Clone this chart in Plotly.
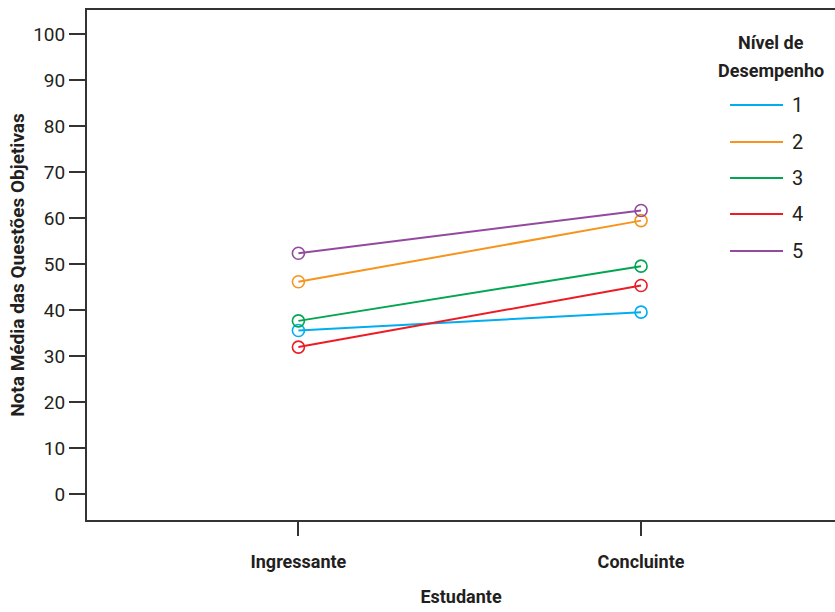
import plotly.graph_objects as go

categories = ["Ingressante", "Concluinte"]
levels = ["1", "2", "3", "4", "5"]
values = {
    "1": [35.6, 39.6],
    "2": [46.2, 59.5],
    "3": [37.7, 49.6],
    "4": [32.0, 45.4],
    "5": [52.4, 61.7],
}
colors = {"1": "#00aeef", "2": "#f7941d", "3": "#00a651", "4": "#ed1c24", "5": "#92499e"}
y_ticks = [0, 10, 20, 30, 40, 50, 60, 70, 80, 90, 100]

W, H = 835, 612
ML, MT, MB, MR = 87, 10, 92, 0
PW, PH = W - ML - MR, H - MT - MB

FONT = "Roboto, Liberation Sans, sans-serif"
INK = "#231f20"

fig = go.Figure()
for lv in levels:
    fig.add_trace(go.Scatter(
        x=[0, 1], y=values[lv], mode="lines+markers", name=lv,
        line=dict(color=colors[lv], width=2),
        marker=dict(symbol="circle-open", size=12, color=colors[lv], line=dict(width=1.6)),
        showlegend=False, hoverinfo="skip",
    ))

def px2x(px):
    return (px - ML) / PW

def py2y(py):
    return (H - MB - py) / PH

shapes = []
annotations = []
leg_y = [105, 142, 178, 214, 251]
for lv, py in zip(levels, leg_y):
    shapes.append(dict(type="line", xref="paper", yref="paper",
                       x0=px2x(730), x1=px2x(783), y0=py2y(py), y1=py2y(py),
                       line=dict(color=colors[lv], width=2)))
    annotations.append(dict(xref="paper", yref="paper", x=px2x(797), y=py2y(py),
                            text=lv, showarrow=False, xanchor="center", yanchor="middle",
                            font=dict(family=FONT, size=20, color=INK)))
for txt, py in [("<b>Nível de</b>", 42), ("<b>Desempenho</b>", 70)]:
    annotations.append(dict(xref="paper", yref="paper", x=px2x(771), y=py2y(py),
                            text=txt, showarrow=False,
                            xanchor="center", yanchor="middle", align="center",
                            font=dict(family=FONT, size=18, color=INK)))

fig.update_layout(
    width=W, height=H,
    margin=dict(l=ML, r=MR, t=MT, b=MB, pad=0, autoexpand=False),
    plot_bgcolor="white", paper_bgcolor="white",
    font=dict(family=FONT, color=INK),
    shapes=shapes, annotations=annotations,
    xaxis=dict(
        range=[-0.617, 1.566], tickmode="array", tickvals=[0, 1],
        ticktext=[f"<b>{c}</b>" for c in categories],
        showgrid=False, zeroline=False, automargin=False,
        showline=True, mirror=True, linecolor="#333333", linewidth=2,
        ticks="outside", ticklen=14, tickwidth=1.5, tickcolor="#333333",
        ticklabelstandoff=10,
        tickfont=dict(family=FONT, size=18, color=INK),
        title=dict(text="<b>Estudante</b>", font=dict(family=FONT, size=18, color=INK), standoff=20),
        fixedrange=True,
    ),
    yaxis=dict(
        range=[-5.6, 105.3], tickmode="array", tickvals=y_ticks,
        showgrid=False, zeroline=False, automargin=False,
        showline=True, linecolor="#333333", linewidth=2,
        ticks="outside", ticklen=16, tickwidth=1.5, tickcolor="#333333",
        tickfont=dict(family=FONT, size=19, color=INK),
        title=dict(text="<b>Nota Média das Questões Objetivas</b>", font=dict(family=FONT, size=19, color=INK), standoff=4),
        fixedrange=True,
    ),
)

fig.write_html("out.html", config={"displayModeBar": False},
               post_script="document.body.style.margin='0';")
